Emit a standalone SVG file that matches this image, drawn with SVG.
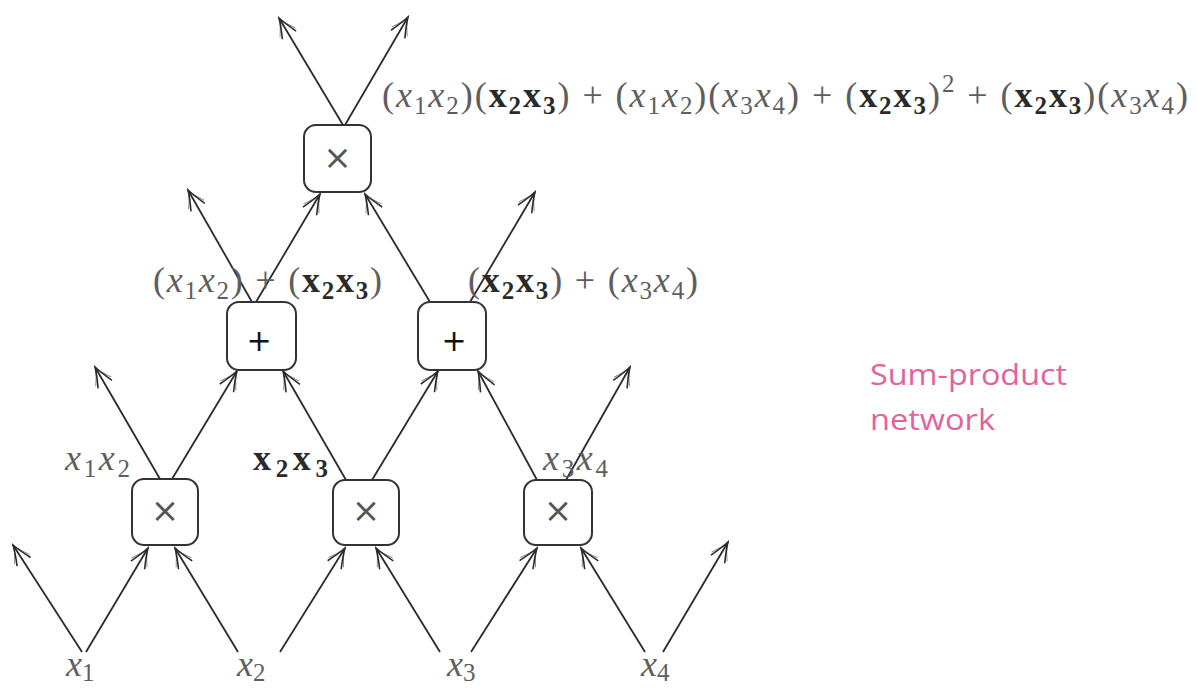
<svg xmlns="http://www.w3.org/2000/svg" width="1197" height="690" viewBox="0 0 1197 690">
<style>
.ln{stroke:#2b2b2b;stroke-width:1.8;fill:none;marker-end:url(#ah)}
.box{fill:#fff;stroke:#333;stroke-width:2}
.m{font-family:"Liberation Serif","DejaVu Serif",serif;font-size:36px;fill:#5e5e5e}
.i{font-style:italic}
.b{font-weight:bold;fill:#2a2a2a}
.s{font-size:25px}
.op{font-family:"DejaVu Sans","Liberation Sans",sans-serif;text-anchor:middle;dominant-baseline:central}
.times{font-size:34px;fill:#555;font-weight:normal}
.plus{font-size:30px;fill:#111;font-weight:normal}
.pink{font-family:"Open Sans","Noto Sans",sans-serif;font-size:30px;fill:#E2619F}
</style>
<defs>
<marker id="ah" viewBox="-22 -10 24 20" refX="0" refY="0" markerWidth="24" markerHeight="20" markerUnits="userSpaceOnUse" orient="auto">
<path d="M-20,-8 Q-7,-2 0,0 Q-7,2 -20,8" fill="none" stroke="#2b2b2b" stroke-width="1.6"/>
<path d="M-17,-9 Q-8,-3 -3,-0.8 M-17,9 Q-8,3 -3,0.8" fill="none" stroke="#2b2b2b" stroke-width="0.9" opacity="0.6"/>
</marker>
</defs>
<rect width="1197" height="690" fill="#fff"/>
<g id="connectors">
<line class="ln" x1="82" y1="652" x2="13" y2="545"/>
<line class="ln" x1="86" y1="652" x2="148" y2="548"/>
<line class="ln" x1="238" y1="652" x2="175" y2="548"/>
<line class="ln" x1="280" y1="652" x2="345" y2="548"/>
<line class="ln" x1="440" y1="652" x2="376" y2="548"/>
<line class="ln" x1="471" y1="652" x2="537" y2="548"/>
<line class="ln" x1="645" y1="652" x2="581" y2="548"/>
<line class="ln" x1="663" y1="652" x2="728" y2="542"/>
<line class="ln" x1="160" y1="479" x2="95" y2="367"/>
<line class="ln" x1="172" y1="479" x2="237" y2="371"/>
<line class="ln" x1="346" y1="480" x2="283" y2="371"/>
<line class="ln" x1="372" y1="480" x2="438" y2="371"/>
<line class="ln" x1="537" y1="480" x2="478" y2="371"/>
<line class="ln" x1="566" y1="480" x2="630" y2="367"/>
<line class="ln" x1="252" y1="302" x2="188" y2="190"/>
<line class="ln" x1="256" y1="302" x2="320" y2="194"/>
<line class="ln" x1="430" y1="302" x2="365" y2="194"/>
<line class="ln" x1="470" y1="302" x2="535" y2="192"/>
<line class="ln" x1="343" y1="125" x2="279" y2="18"/>
<line class="ln" x1="345" y1="125" x2="408" y2="17"/>
</g>
<g id="node-top">
<rect class="box" x="304" y="125" width="67" height="67" rx="12"/>
<text class="op times" x="337.5" y="157">×</text>
</g>
<g id="node-sum-left">
<rect class="box" x="227" y="302" width="69" height="68" rx="12"/>
<text class="op plus" x="259" y="340">+</text>
</g>
<g id="node-sum-right">
<rect class="box" x="418" y="302" width="68" height="68" rx="12"/>
<text class="op plus" x="454" y="340">+</text>
</g>
<g id="node-prod-1">
<rect class="box" x="132" y="479" width="66" height="66" rx="12"/>
<text class="op times" x="165" y="510">×</text>
</g>
<g id="node-prod-2">
<rect class="box" x="333" y="480" width="66" height="65" rx="12"/>
<text class="op times" x="366" y="510">×</text>
</g>
<g id="node-prod-3">
<rect class="box" x="524" y="480" width="68" height="65" rx="12"/>
<text class="op times" x="558" y="510">×</text>
</g>
<g id="labels">
<text class="m" x="382" y="107" textLength="806" lengthAdjust="spacing">(<tspan class="i">x</tspan><tspan class="s" dy="7">1</tspan><tspan class="i" dy="-7">x</tspan><tspan class="s" dy="7">2</tspan><tspan dy="-7">)(</tspan><tspan class="b">x</tspan><tspan class="b s" dy="7">2</tspan><tspan class="b" dy="-7">x</tspan><tspan class="b s" dy="7">3</tspan><tspan dy="-7">) + (</tspan><tspan class="i">x</tspan><tspan class="s" dy="7">1</tspan><tspan class="i" dy="-7">x</tspan><tspan class="s" dy="7">2</tspan><tspan dy="-7">)(</tspan><tspan class="i">x</tspan><tspan class="s" dy="7">3</tspan><tspan class="i" dy="-7">x</tspan><tspan class="s" dy="7">4</tspan><tspan dy="-7">) + (</tspan><tspan class="b">x</tspan><tspan class="b s" dy="7">2</tspan><tspan class="b" dy="-7">x</tspan><tspan class="b s" dy="7">3</tspan><tspan dy="-7">)</tspan><tspan class="s" dy="-15">2</tspan><tspan dy="15"> + (</tspan><tspan class="b">x</tspan><tspan class="b s" dy="7">2</tspan><tspan class="b" dy="-7">x</tspan><tspan class="b s" dy="7">3</tspan><tspan dy="-7">)(</tspan><tspan class="i">x</tspan><tspan class="s" dy="7">3</tspan><tspan class="i" dy="-7">x</tspan><tspan class="s" dy="7">4</tspan><tspan dy="-7">)</tspan></text>
<text class="m" x="153" y="292" textLength="229" lengthAdjust="spacing">(<tspan class="i">x</tspan><tspan class="s" dy="7">1</tspan><tspan class="i" dy="-7">x</tspan><tspan class="s" dy="7">2</tspan><tspan dy="-7">) + (</tspan><tspan class="b">x</tspan><tspan class="b s" dy="7">2</tspan><tspan class="b" dy="-7">x</tspan><tspan class="b s" dy="7">3</tspan><tspan dy="-7">)</tspan></text>
<text class="m" x="468" y="292" textLength="230" lengthAdjust="spacing">(<tspan class="b">x</tspan><tspan class="b s" dy="7">2</tspan><tspan class="b" dy="-7">x</tspan><tspan class="b s" dy="7">3</tspan><tspan dy="-7">) + (</tspan><tspan class="i">x</tspan><tspan class="s" dy="7">3</tspan><tspan class="i" dy="-7">x</tspan><tspan class="s" dy="7">4</tspan><tspan dy="-7">)</tspan></text>
<text class="m" x="65" y="470" textLength="65" lengthAdjust="spacing"><tspan class="i">x</tspan><tspan class="s" dy="7">1</tspan><tspan class="i" dy="-7">x</tspan><tspan class="s" dy="7">2</tspan></text>
<text class="m" x="253" y="470" textLength="75" lengthAdjust="spacing"><tspan class="b">x</tspan><tspan class="b s" dy="7">2</tspan><tspan class="b" dy="-7">x</tspan><tspan class="b s" dy="7">3</tspan></text>
<text class="m" x="543" y="470" textLength="65" lengthAdjust="spacing"><tspan class="i">x</tspan><tspan class="s" dy="7">3</tspan><tspan class="i" dy="-7">x</tspan><tspan class="s" dy="7">4</tspan></text>
<text class="m" x="66" y="676"><tspan class="i">x</tspan><tspan class="s" dy="5">1</tspan></text>
<text class="m" x="237" y="676"><tspan class="i">x</tspan><tspan class="s" dy="5">2</tspan></text>
<text class="m" x="447" y="676"><tspan class="i">x</tspan><tspan class="s" dy="5">3</tspan></text>
<text class="m" x="641" y="676"><tspan class="i">x</tspan><tspan class="s" dy="5">4</tspan></text>
</g>
<g id="caption">
<text class="pink" x="870" y="385" textLength="197" lengthAdjust="spacingAndGlyphs">Sum-product</text>
<text class="pink" x="870" y="430" textLength="125" lengthAdjust="spacingAndGlyphs">network</text>
</g>
</svg>
